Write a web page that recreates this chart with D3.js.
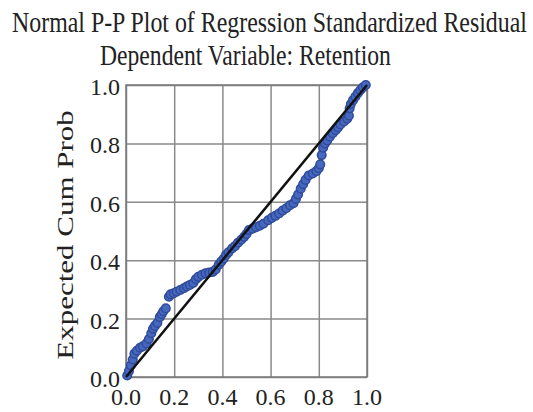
<!DOCTYPE html>
<html>
<head>
<meta charset="utf-8">
<script src="https://cdn.jsdelivr.net/npm/d3@7"></script>
<style>
  body { margin: 0; background: #fff; }
  text { font-family: "Liberation Serif", "Times New Roman", serif; fill: #222; }
</style>
</head>
<body>
<svg id="chart"></svg>
<script>
var observedProb = [
  0.005, 0.012, 0.02, 0.028, 0.035, 0.045, 0.058, 0.07, 0.085, 0.095,
  0.105, 0.112, 0.12, 0.13, 0.14, 0.148, 0.155, 0.165, 0.178, 0.185,
  0.198, 0.21, 0.225, 0.24, 0.252, 0.265, 0.279, 0.29, 0.3, 0.315,
  0.33, 0.345, 0.36, 0.372, 0.385, 0.395, 0.405, 0.415, 0.425, 0.44,
  0.452, 0.465, 0.478, 0.49, 0.5, 0.51, 0.525, 0.54, 0.555, 0.57,
  0.59, 0.605, 0.62, 0.635, 0.65, 0.665, 0.68, 0.695, 0.705, 0.714,
  0.725, 0.735, 0.745, 0.758, 0.775, 0.79, 0.8, 0.806, 0.812, 0.818,
  0.826, 0.835, 0.846, 0.858, 0.87, 0.88, 0.89, 0.905, 0.918, 0.925,
  0.928, 0.933, 0.942, 0.952, 0.962, 0.972, 0.983, 0.995
];
var expectedProb = [
  0.005, 0.02, 0.04, 0.06, 0.08, 0.09, 0.10, 0.105, 0.115, 0.13,
  0.15, 0.165, 0.175, 0.185, 0.205, 0.215, 0.225, 0.235, 0.275, 0.283,
  0.287, 0.292, 0.298, 0.304, 0.31, 0.315, 0.322, 0.335, 0.343, 0.35,
  0.355, 0.358, 0.36, 0.368, 0.385, 0.395, 0.405, 0.418, 0.427, 0.44,
  0.448, 0.46, 0.47, 0.48, 0.49, 0.503, 0.508, 0.513, 0.518, 0.525,
  0.537, 0.545, 0.552, 0.56, 0.57, 0.578, 0.588, 0.595, 0.61, 0.625,
  0.645, 0.66, 0.675, 0.69, 0.697, 0.705, 0.715, 0.728, 0.76, 0.785,
  0.8, 0.81, 0.823, 0.835, 0.845, 0.855, 0.865, 0.875, 0.885, 0.895,
  0.92, 0.935, 0.948, 0.96, 0.972, 0.982, 0.992, 1.0
];
var tickValues = [0, 0.2, 0.4, 0.6, 0.8, 1.0];
var titleLines = ["Normal P-P Plot of Regression Standardized Residual", "Dependent Variable: Retention"];
var yTitle = "Expected Cum Prob";

var svgWidth = 533, svgHeight = 412;
var margin = { top: 85, left: 126, right: 166, bottom: 35 };
var width = svgWidth - margin.left - margin.right;
var height = svgHeight - margin.top - margin.bottom;

var svg = d3.select("#chart")
    .attr("width", svgWidth)
    .attr("height", svgHeight);

// titles, squeezed sideways like the reference (scaled to a target width)
function squeezedText(str, x0, y0, size, targetW) {
    var t = svg.append("text")
        .attr("font-size", size)
        .text(str);
    var w = t.node().getComputedTextLength();
    t.attr("transform", "translate(" + x0 + "," + y0 + ") scale(" + (targetW / w) + ",1)");
    return t;
}
squeezedText(titleLines[0], 12, 32, 30, 515);
squeezedText(titleLines[1], 100, 65, 30, 291);

var x = d3.scaleLinear().domain([0, 1]).range([0, width]);
var y = d3.scaleLinear().domain([0, 1]).range([height, 0]);

var g = svg.append("g")
    .attr("transform", "translate(" + margin.left + "," + margin.top + ")");

// grid
g.append("g")
    .attr("transform", "translate(0," + height + ")")
    .call(d3.axisBottom(x).tickValues(tickValues).tickSize(-height).tickFormat(""))
    .call(function(s) { s.select(".domain").remove(); })
    .selectAll("line").attr("stroke", "#8a8a8a").attr("stroke-width", 1.5);
g.append("g")
    .call(d3.axisLeft(y).tickValues(tickValues).tickSize(-width).tickFormat(""))
    .call(function(s) { s.select(".domain").remove(); })
    .selectAll("line").attr("stroke", "#8a8a8a").attr("stroke-width", 1.5);

g.append("rect")
    .attr("width", width).attr("height", height)
    .attr("fill", "none")
    .attr("stroke", "#7a7a7a")
    .attr("stroke-width", 1.5);

// tick labels
g.selectAll(".xlab").data(tickValues).enter().append("text")
    .attr("x", function(d) { return x(d); })
    .attr("y", height + 28)
    .attr("text-anchor", "middle")
    .attr("font-size", 24)
    .text(d3.format(".1f"));
g.selectAll(".ylab").data(tickValues).enter().append("text")
    .attr("x", -6)
    .attr("y", function(d) { return y(d) + 10; })
    .attr("text-anchor", "end")
    .attr("font-size", 24)
    .text(d3.format(".1f"));

svg.append("text")
    .attr("transform", "translate(73," + (margin.top + height / 2 + 4) + ") rotate(-90) scale(1,0.74)")
    .attr("text-anchor", "middle")
    .attr("font-size", 31)
    .text(yTitle);

// points then the reference line on top
var pts = observedProb.map(function(v, i) { return { o: v, e: expectedProb[i] }; });
g.selectAll("circle").data(pts).enter().append("circle")
    .attr("cx", function(d) { return x(d.o); })
    .attr("cy", function(d) { return y(d.e); })
    .attr("r", 4.3)
    .attr("fill", "#4668bf")
    .attr("stroke", "#2f4b9a")
    .attr("stroke-width", 1.5);

g.append("line")
    .attr("x1", x(0)).attr("y1", y(0))
    .attr("x2", x(1)).attr("y2", y(1))
    .attr("stroke", "#111")
    .attr("stroke-width", 2.5);
</script>
</body>
</html>
